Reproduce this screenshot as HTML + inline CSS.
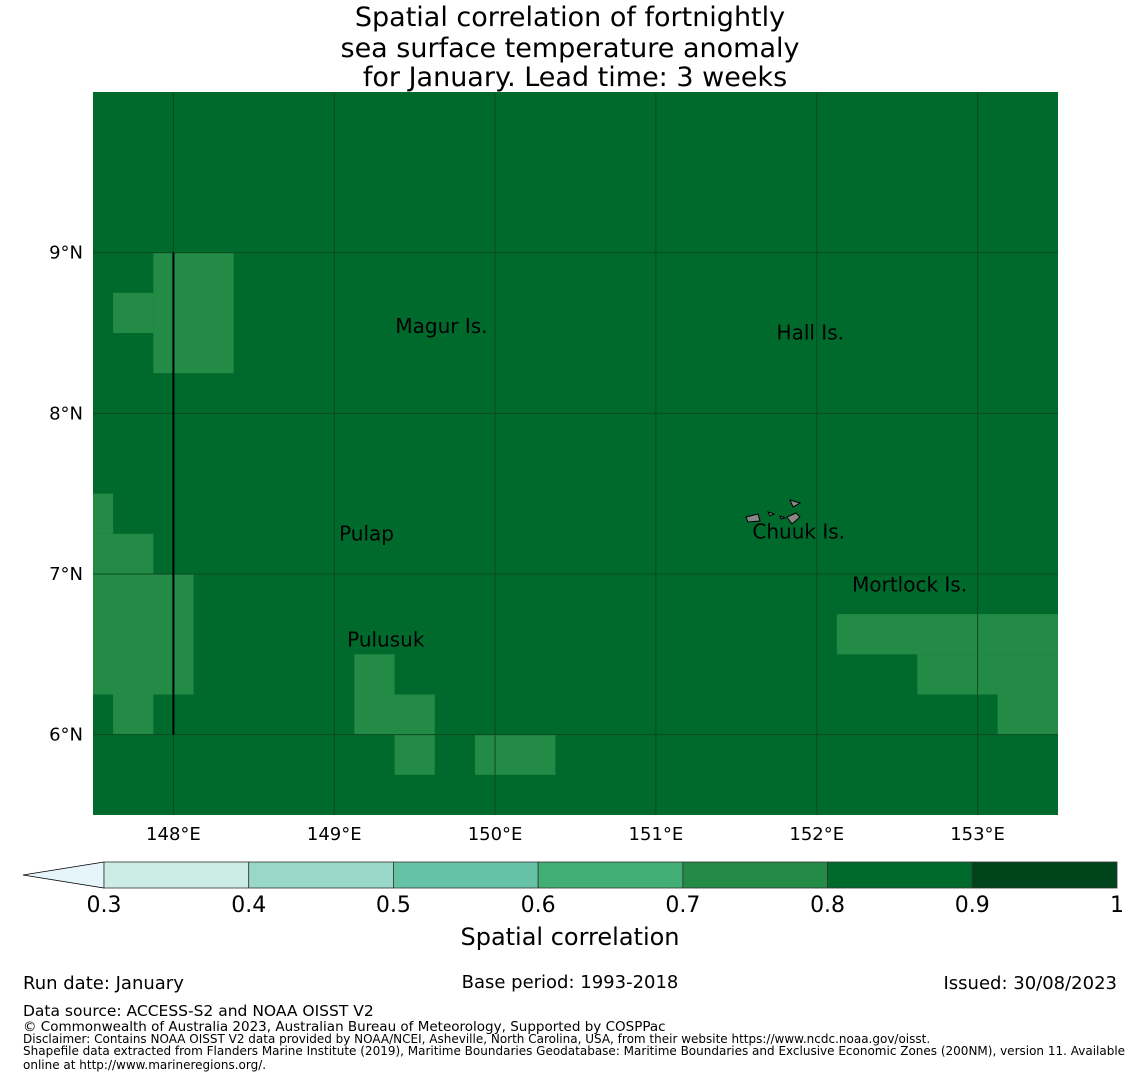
<!DOCTYPE html>
<html><head><meta charset="utf-8">
<style>
body{margin:0;background:#fff;font-family:"Liberation Sans","DejaVu Sans",sans-serif;}
svg text{font-family:"DejaVu Sans","Liberation Sans",sans-serif;}
</style></head>
<body>
<svg id="chart" width="1140" height="1080" xmlns="http://www.w3.org/2000/svg">
<g font-size="27" text-anchor="middle" fill="#000">
<text x="570" y="26">Spatial correlation of fortnightly</text>
<text x="570" y="57">sea surface temperature anomaly</text>
<text x="575" y="86">for January. Lead time: 3 weeks</text>
</g>
<g id="map"></g>
<g id="cbar"></g>
<text x="570" y="945" font-size="24" text-anchor="middle">Spatial correlation</text>
<g font-size="18">
<text x="23" y="989">Run date: January</text>
<text x="570" y="988" text-anchor="middle">Base period: 1993-2018</text>
<text x="1117" y="989" text-anchor="end">Issued: 30/08/2023</text>
<text x="23" y="1016" font-size="15.5">Data source: ACCESS-S2 and NOAA OISST V2</text>
<text x="23" y="1031" font-size="13.5">© Commonwealth of Australia 2023, Australian Bureau of Meteorology, Supported by COSPPac</text>
<text x="23" y="1043" font-size="12">Disclaimer: Contains NOAA OISST V2 data provided by NOAA/NCEI, Asheville, North Carolina, USA, from their website https://www.ncdc.noaa.gov/oisst.</text>
<text x="23" y="1055" font-size="12">Shapefile data extracted from Flanders Marine Institute (2019), Maritime Boundaries Geodatabase: Maritime Boundaries and Exclusive Economic Zones (200NM), version 11. Available</text>
<text x="23" y="1069" font-size="12">online at http://www.marineregions.org/.</text>
</g>
</svg>
<script>
const lonTicks=[148,149,150,151,152,153];
const latTicks=[6,7,8,9];
// light-green (0.7-0.8) regions: [lonMin, lonMax, latMin, latMax]
const cellLon0=[147.875,147.625,147.5,147.5,147.5,147.625,149.125,149.125,149.375,149.875,152.125,152.625,153.125];
const cellLon1=[148.375,147.875,147.625,147.875,148.125,147.875,149.375,149.625,149.625,150.375,153.5,153.5,153.5];
const cellLat0=[8.25,8.5,7.25,7.0,6.25,6.0,6.25,6.0,5.75,5.75,6.5,6.25,6.0];
const cellLat1=[9.0,8.75,7.5,7.25,7.0,6.25,6.5,6.25,6.0,6.0,6.75,6.5,6.25];
const cellValues=[0.75,0.75,0.75,0.75,0.75,0.75,0.75,0.75,0.75,0.75,0.75,0.75,0.75];
const bgValue=0.85;
const cbarBounds=[0.3,0.4,0.5,0.6,0.7,0.8,0.9,1];
const cbarLabels=["0.3","0.4","0.5","0.6","0.7","0.8","0.9","1"];
const cbarColors=["#ccece6","#99d8c9","#66c2a4","#41ae76","#238b45","#006a2d","#00441b"];
const placeNames=["Magur Is.","Hall Is.","Pulap","Chuuk Is.","Mortlock Is.","Pulusuk"];
const placeLon=[149.38,151.75,149.03,151.6,152.22,149.08];
const placeLat=[8.5,8.46,7.21,7.22,6.89,6.55];

const NS='http://www.w3.org/2000/svg';
const X0=93,X1=1058,Y0=92,Y1=815,lonMin=147.5,lonMax=153.5,latMin=5.5,latMax=10.0;
const xs=l=>X0+(l-lonMin)/(lonMax-lonMin)*(X1-X0);
const ys=l=>Y1-(l-latMin)/(latMax-latMin)*(Y1-Y0);
function colorFor(v){for(let i=0;i<cbarColors.length;i++){if(v<cbarBounds[i+1])return cbarColors[i];}return cbarColors[cbarColors.length-1];}
function mk(tag,attrs,parent){const e=document.createElementNS(NS,tag);for(const k in attrs)e.setAttribute(k,attrs[k]);parent.appendChild(e);return e;}
const map=document.getElementById('map');
let bg=mk('rect',{x:X0,y:Y0,width:X1-X0,height:Y1-Y0,fill:colorFor(bgValue)},map);


for(let i=0;i<cellLon0.length;i++){
  const r=mk('rect',{x:xs(cellLon0[i]),y:ys(cellLat1[i]),width:xs(cellLon1[i])-xs(cellLon0[i]),height:ys(cellLat0[i])-ys(cellLat1[i]),fill:colorFor(cellValues[i])},map);
  
  
}
lonTicks.forEach(l=>{
  const g=mk('line',{x1:xs(l),x2:xs(l),y1:Y0,y2:Y1,stroke:'#0b4a1f','stroke-width':1},map);
  
  
  const t=mk('text',{x:xs(l),y:840,'font-size':18,'text-anchor':'middle'},map);t.textContent=l+'°E';
  
  
});
latTicks.forEach(l=>{
  const g=mk('line',{x1:X0,x2:X1,y1:ys(l),y2:ys(l),stroke:'#0b4a1f','stroke-width':1},map);
  
  
  const t=mk('text',{x:83,y:ys(l)+6,'font-size':18,'text-anchor':'end'},map);t.textContent=l+'°N';
  
  
});
let bl=mk('line',{x1:xs(148),x2:xs(148),y1:ys(9),y2:ys(6),stroke:'#000','stroke-width':2},map);


const isl=mk('g',{fill:'#888',stroke:'#000','stroke-width':1},map);


[[746,517,758,514,760,521,748,522],[790,500,800,503,793,507],[787,517,796,513,800,517,792,524],[768,512,774,514,770,516],[780,516,785,518,781,519]].forEach(p=>{
  let pts='';for(let i=0;i<p.length;i+=2)pts+=p[i]+','+p[i+1]+' ';mk('polygon',{points:pts},isl);
});
placeNames.forEach((n,i)=>{
  const t=mk('text',{x:xs(placeLon[i]),y:ys(placeLat[i]),'font-size':20},map);t.textContent=n;
  
  
});
const cb=document.getElementById('cbar');
const CX0=104,CX1=1117,CY0=862,CY1=888;
const cx=v=>CX0+(v-cbarBounds[0])/(cbarBounds[cbarBounds.length-1]-cbarBounds[0])*(CX1-CX0);
let tri=mk('polygon',{points:`${CX0},${CY0} 23,${(CY0+CY1)/2} ${CX0},${CY1}`,fill:'#e5f5f9',stroke:'#000','stroke-width':0.8},cb);


for(let i=0;i<cbarColors.length;i++){
  const r=mk('rect',{x:cx(cbarBounds[i]),y:CY0,width:cx(cbarBounds[i+1])-cx(cbarBounds[i]),height:CY1-CY0,fill:cbarColors[i],stroke:'#333','stroke-width':0.8},cb);
  
  
}
cbarLabels.forEach((s,i)=>{
  const t=mk('text',{x:cx(cbarBounds[i]),y:912,'font-size':22,'text-anchor':'middle'},cb);t.textContent=s;
  
  
});
</script>
</body></html>
